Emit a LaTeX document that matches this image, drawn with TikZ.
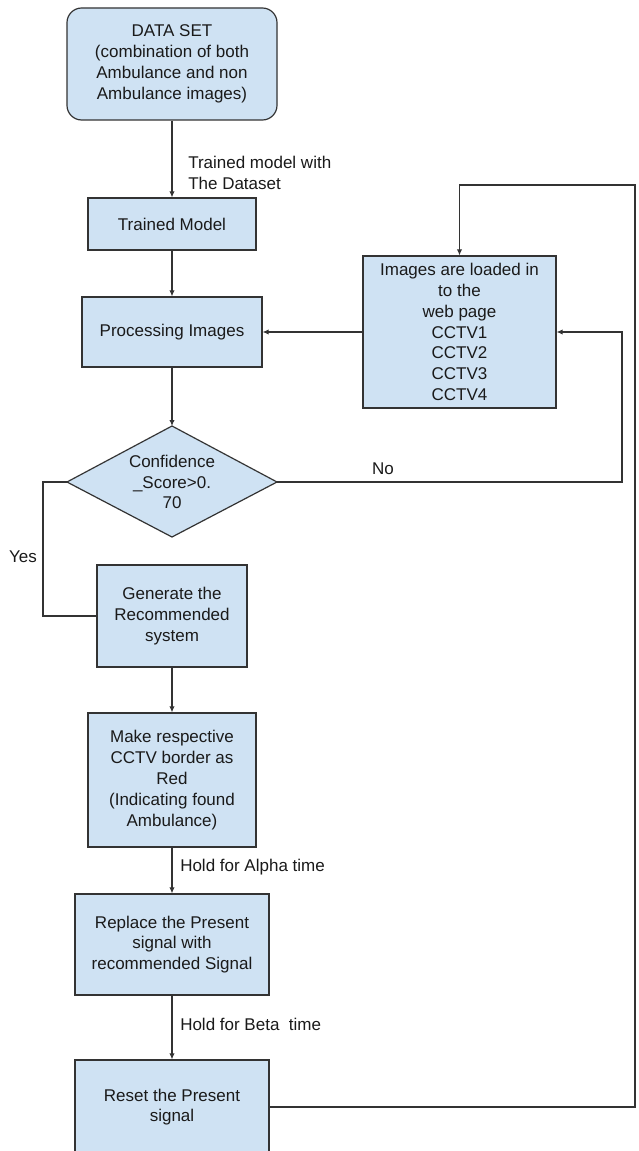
\documentclass[tikz,border=0pt]{standalone}
\usepackage{fontspec}
\setmainfont{Liberation Sans}
\usetikzlibrary{shapes.geometric,arrows.meta}
\newdimen\pxu \pxu=0.75pt
\definecolor{boxfill}{HTML}{CFE2F3}
\definecolor{edge}{HTML}{333333}
\definecolor{txt}{HTML}{1A1A1A}
\begin{document}
\begin{tikzpicture}[x=0.75pt,y=-0.75pt,
  every node/.style={font=\fontsize{12.75}{15.6}\selectfont, text=txt},
  flowbox/.style={draw=edge, line width=0.9pt, fill=boxfill, align=center, inner sep=0pt},
  link/.style={draw=edge, line width=0.8pt},
  arr/.style={link, -{Latex[length=4.5pt,width=4pt]}},
  lbl/.style={anchor=west, align=left, inner sep=0pt}
]
\useasboundingbox (0,0) rectangle (638,1151);
\fill[white] (0,0) rectangle (638,1151);

\node[flowbox, rounded corners=11pt, minimum width=210\pxu, minimum height=112\pxu] (ds) at (172,64)
  {DATA SET\\(combination of both\\Ambulance and non\\Ambulance images)};
\node[flowbox, minimum width=168\pxu, minimum height=52\pxu] (tm) at (172,224) {Trained Model};
\node[flowbox, minimum width=180\pxu, minimum height=70\pxu] (pi) at (172,332) {Processing Images};
\node[flowbox, minimum width=193\pxu, minimum height=152\pxu] (img) at (459.5,332)
  {Images are loaded in\\to the\\web page\\CCTV1\\CCTV2\\CCTV3\\CCTV4};
\draw[draw=edge, line width=0.9pt, fill=boxfill] (67,482) -- (172,426) -- (277,482) -- (172,537) -- cycle;
\node[align=center, inner sep=0pt, minimum width=210\pxu, minimum height=111\pxu] (dia) at (172,482)
  {Confidence\\\_Score>0.\\70};
\coordinate (diaW) at (67,482);
\coordinate (diaE) at (277,482);
\coordinate (diaN) at (172,426);
\node[flowbox, minimum width=150\pxu, minimum height=102\pxu] (gen) at (172,616)
  {Generate the\\Recommended\\system};
\node[flowbox, minimum width=168\pxu, minimum height=134\pxu] (mk) at (172,780)
  {Make respective\\CCTV border as\\Red\\(Indicating found\\Ambulance)};
\node[flowbox, minimum width=194\pxu, minimum height=101\pxu] (rep) at (172,944.5)
  {Replace the Present\\signal with\\recommended Signal};
\node[flowbox, minimum width=194\pxu, minimum height=94\pxu] (rst) at (172,1107)
  {Reset the Present\\signal};

\coordinate (noA) at (622,482);
\coordinate (noB) at (622,332);
\coordinate (yesA) at (43,482);
\coordinate (yesB) at (43,616);
\coordinate (lpA) at (635,1107);
\coordinate (lpB) at (635,185);
\coordinate (lpC) at (459.5,185);

\draw[arr] (ds.south) -- (tm.north);
\node[lbl] (l1) at (188,173) {Trained model with\\The Dataset};
\draw[arr] (tm.south) -- (pi.north);
\draw[arr] (img.west) -- (pi.east);
\draw[arr] (pi.south) -- (diaN);
\draw[arr] (diaE) -- (noA) -- (noB) -- (img.east);
\node (no) at (383,469) {No};
\draw[link] (diaW) -- (yesA) -- (yesB) -- (gen.west);
\node (yes) at (23,557) {Yes};
\draw[arr] (gen.south) -- (mk.north);
\draw[arr] (mk.south) -- (rep.north);
\node[lbl] (l2) at (180,867) {Hold for Alpha time};
\draw[arr] (rep.south) -- (rst.north);
\node[lbl] (l3) at (180,1024) {Hold for Beta\ \ time};
\draw[arr] (rst.east) -- (lpA) -- (lpB) -- (lpC) -- (img.north);
\end{tikzpicture}
\end{document}
